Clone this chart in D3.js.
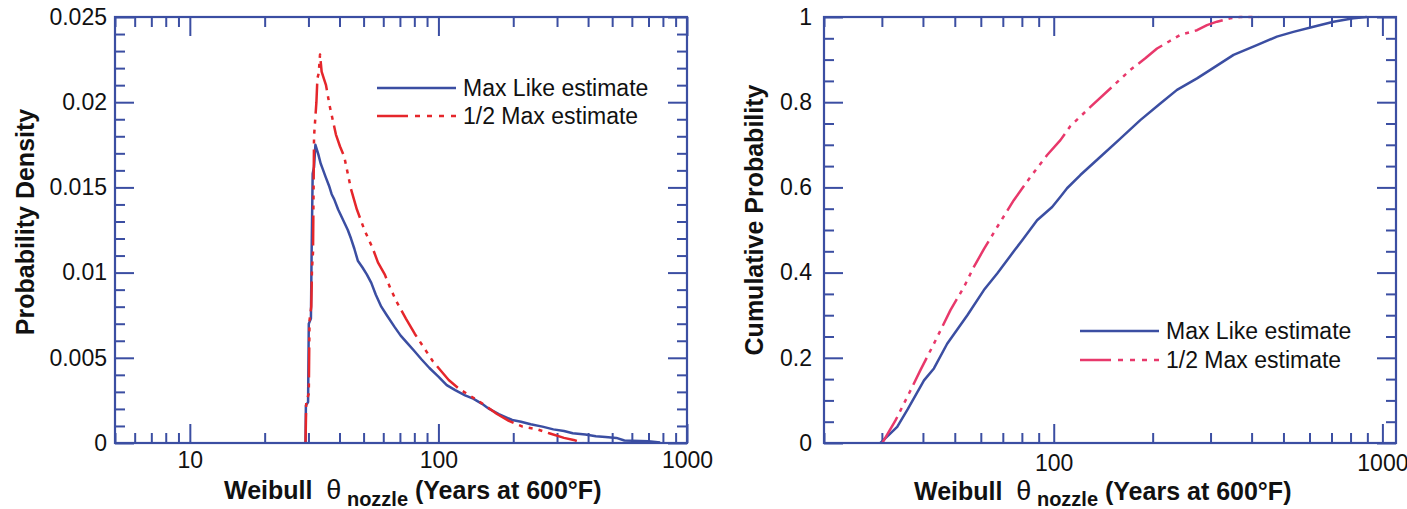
<!DOCTYPE html>
<html>
<head>
<meta charset="utf-8">
<script src="https://cdn.jsdelivr.net/npm/d3@7"></script>
<style>
body{margin:0;background:#fff;}
svg{font-family:"Liberation Sans",Arial,Helvetica,sans-serif;}
.xtitle{white-space:pre;}
</style>
</head>
<body>
<svg id="chart" width="1407" height="509"></svg>
<script>
// values: [theta, value]
var pdfMaxLike=[[29.2,0],[29.3,0.0022],[29.9,0.0024],[30.1,0.0070],[30.7,0.0073],[30.9,0.0112],[31.2,0.0158],[31.6,0.0162],[32.0,0.0175],
	[32.8,0.0170],[33.6,0.0164],[34.2,0.0161],[35.2,0.0156],[36.3,0.0151],[37.2,0.0146],[38.1,0.0143],[39.5,0.0137],[41.0,0.0132],
	[43.2,0.0125],[44.5,0.0120],[45.9,0.0114],[47.4,0.0107],[49.5,0.0103],[51.5,0.0099],[53.7,0.0094],[56,0.0087],[58.9,0.0080],
	[62,0.0075],[66.7,0.0068],[70.5,0.0063],[75.6,0.0058],[80,0.0054],[85.6,0.0049],[92,0.0044],[100,0.0039],[108,0.0034],
	[116.8,0.0031],[128,0.0028],[138,0.0026],[149.8,0.0023],[160,0.0020],[175,0.0017],[198,0.00135],[215,0.00125],[235,0.0011],
	[262,0.00096],[290,0.0008],[320,0.0007],[347,0.00057],[390,0.0005],[430,0.0004],[470,0.00035],[520,0.0003],[560,0.00015],
	[700,0.0001],[780,0.00003]];
var pdfHalfMax=[[29.2,0],[29.4,0.0024],[30.1,0.0029],[30.3,0.0072],[30.8,0.0080],[31.0,0.0102],[31.3,0.0112],[31.6,0.0180],[32.3,0.0200],
	[32.6,0.0214],[33.0,0.0217],[33.4,0.0228],[33.9,0.0218],[34.4,0.0215],[35.3,0.0210],[36.5,0.0198],[38.7,0.0181],[40.2,0.0174],
	[41.8,0.0168],[43.2,0.0158],[44.5,0.0149],[47,0.0137],[50.4,0.0125],[54.5,0.0114],[57.1,0.0106],[60.8,0.0099],[64,0.0091],
	[67.8,0.0083],[74,0.0073],[80.4,0.0064],[88.3,0.0055],[95,0.0048],[101.5,0.0043],[110,0.0037],[120.5,0.0032],[136.5,0.0027],
	[154.5,0.0022],[172,0.0017],[192,0.0013],[218,0.00096],[250,0.0008],[279,0.00057],[320,0.0003],[350,0.00018],[381,0]];
var cdfMaxLike=[[29.7,0],[33.4,0.038],[36,0.08],[40.3,0.147],[43.2,0.175],[47.4,0.233],[54.6,0.30],[61.3,0.359],[67.3,0.398],
	[75.6,0.45],[80.2,0.476],[89,0.523],[98.9,0.554],[104.8,0.578],[109.8,0.598],[120.5,0.629],[138.7,0.672],[157.6,0.711],
	[183.4,0.758],[211,0.797],[237.2,0.829],[272.9,0.856],[299.5,0.876],[352.5,0.911],[415,0.934],[477.5,0.954],[536,0.965],
	[617,0.977],[710,0.989],[816,0.997],[897,1.0]];
var cdfHalfMax=[[30.1,0],[33,0.053],[36.7,0.124],[39.3,0.171],[43.2,0.233],[48.5,0.312],[53.3,0.366],[57.1,0.413],[61.3,0.455],
	[67.3,0.507],[75.6,0.57],[85,0.625],[95.5,0.676],[104.8,0.711],[112.4,0.744],[129.3,0.789],[150.5,0.836],[171.1,0.876],
	[190,0.903],[206.2,0.926],[223.6,0.942],[242.7,0.958],[272.9,0.969],[292.6,0.981],[313.9,0.989],[344.4,0.997],[369.4,1.0],[420,1.0]];

var pdfYTicks=[0,0.005,0.01,0.015,0.02,0.025];
var cdfYTicks=[0,0.2,0.4,0.6,0.8,1];
var pdfXTicks=[10,100,1000];
var cdfXTicks=[100,1000];
var seriesNames=["Max Like estimate","1/2 Max estimate"];

var blue="#3b4ea2";
var svg=d3.select("#chart");

function logMinor(lo,hi,majors){
	var t=[];
	for(var d=1;d<=1000;d*=10){
		for(var k=1;k<10;k++){
			var v=k*d;
			if(v>=lo && v<=hi && majors.indexOf(v)<0) t.push(v);
		}
	}
	return t;
}
function linMinor(lo,hi,step,majors){
	var t=[];
	for(var i=0;i*step<=hi+1e-9;i++){
		var v=+(lo+i*step).toFixed(6);
		var major=majors.some(function(m){return Math.abs(m-v)<1e-9;});
		if(!major) t.push(v);
	}
	return t;
}
function styleTicks(g){
	g.select(".domain").remove();
	g.selectAll(".tick line").attr("stroke",blue).attr("stroke-width",2);
	g.selectAll(".tick text").attr("fill","#111").style("font-size","23px");
}

function drawPanel(o){
	var x=d3.scaleLog().domain(o.xDomain).range([o.left,o.right]);
	var y=d3.scaleLinear().domain(o.yDomain).range([o.bottom,o.top]);
	var W=o.right-o.left, H=o.bottom-o.top;
	var yMinor=linMinor(o.yDomain[0],o.yDomain[1],o.yStep,o.yTicks);
	var xMinor=logMinor(o.xDomain[0],o.xDomain[1],o.xTicks);
	var big=19, small=10;

	// bottom + top
	var gb=svg.append("g").attr("transform","translate(0,"+o.bottom+")");
	gb.append("g").call(d3.axisBottom(x).tickValues(o.xTicks).tickSizeInner(-big).tickSizeOuter(0).tickPadding(o.xPad).tickFormat(d3.format("d"))).call(styleTicks);
	gb.append("g").call(d3.axisBottom(x).tickValues(xMinor).tickSizeInner(-small).tickSizeOuter(0).tickFormat("")).call(styleTicks);
	var gt=svg.append("g").attr("transform","translate(0,"+o.top+")");
	gt.append("g").call(d3.axisTop(x).tickValues(o.xTicks).tickSizeInner(-big).tickSizeOuter(0).tickFormat("")).call(styleTicks);
	gt.append("g").call(d3.axisTop(x).tickValues(xMinor).tickSizeInner(-small).tickSizeOuter(0).tickFormat("")).call(styleTicks);
	// left + right
	var gl=svg.append("g").attr("transform","translate("+o.left+",0)");
	gl.append("g").call(d3.axisLeft(y).tickValues(o.yTicks).tickSizeInner(-big).tickSizeOuter(0).tickPadding(o.yPad).tickFormat(d3.format(""))).call(styleTicks);
	gl.append("g").call(d3.axisLeft(y).tickValues(yMinor).tickSizeInner(-small).tickSizeOuter(0).tickFormat("")).call(styleTicks);
	var gr=svg.append("g").attr("transform","translate("+o.right+",0)");
	gr.append("g").call(d3.axisRight(y).tickValues(o.yTicks).tickSizeInner(-big).tickSizeOuter(0).tickFormat("")).call(styleTicks);
	gr.append("g").call(d3.axisRight(y).tickValues(yMinor).tickSizeInner(-small).tickSizeOuter(0).tickFormat("")).call(styleTicks);

	// curves
	var clipId="clip"+o.id;
	svg.append("clipPath").attr("id",clipId).append("rect").attr("x",o.left).attr("y",o.top-2).attr("width",W).attr("height",H+2);
	var line=d3.line().x(function(d){return x(d[0]);}).y(function(d){return y(d[1]);});
	var gc=svg.append("g").attr("clip-path","url(#"+clipId+")");
	gc.append("path").datum(o.series[0]).attr("d",line).attr("fill","none").attr("stroke",blue).attr("stroke-width",2.5).attr("stroke-linejoin","round");
	gc.append("path").datum(o.series[1]).attr("d",line).attr("fill","none").attr("stroke",o.red).attr("stroke-width",2.5)
		.attr("stroke-dasharray","30,6,4,6,4,6,4,6").attr("stroke-linejoin","round");

	// frame
	svg.append("rect").attr("x",o.left).attr("y",o.top).attr("width",W).attr("height",H)
		.attr("fill","none").attr("stroke",blue).attr("stroke-width",2.2);

	// legend
	var lg=svg.append("g");
	seriesNames.forEach(function(name,i){
		var ly=o.legY[i];
		lg.append("line").attr("x1",o.legX).attr("x2",o.legX+79).attr("y1",ly).attr("y2",ly)
			.attr("stroke",i==0?blue:o.red).attr("stroke-width",2.5)
			.attr("stroke-dasharray",i==0?null:"31,7,5,7,5,7,5,7");
		lg.append("text").attr("x",o.legX+86).attr("y",ly+7.5).style("font-size","23px").attr("fill","#111").text(name);
	});

	// axis titles
	var xt=svg.append("text").attr("class","xtitle").attr("x",o.xTitleX).attr("y",o.xTitleY).attr("font-weight","bold").style("font-size","25px").attr("fill","#111");
	xt.append("tspan").text("Weibull  ");
	xt.append("tspan").attr("font-weight","normal").style("font-size","27px").text("\u03b8");
	xt.append("tspan").style("font-size","20px").attr("dy",o.subDy).text(" nozzle");
	xt.append("tspan").attr("dy",-o.subDy).text(" (Years at 600\u00b0F)");

	svg.append("text").attr("transform","translate("+o.yTitleX+","+o.yTitleY+") rotate(-90)")
		.attr("text-anchor","middle").attr("font-weight","bold").style("font-size","25px").attr("fill","#111").text(o.yTitle);
}

drawPanel({id:1,left:115,right:687,top:17,bottom:443,xDomain:[5,1000],yDomain:[0,0.025],yStep:0.001,
	xTicks:pdfXTicks,yTicks:pdfYTicks,xPad:9,yPad:8,series:[pdfMaxLike,pdfHalfMax],red:"#e5262b",
	legX:377,legY:[88,116],xTitleX:224,xTitleY:499,subDy:7,yTitleX:34,yTitleY:222,yTitle:"Probability Density"});
drawPanel({id:2,left:824,right:1396,top:17,bottom:443,xDomain:[20,1100],yDomain:[0,1],yStep:0.05,
	xTicks:cdfXTicks,yTicks:cdfYTicks,xPad:12,yPad:12,series:[cdfMaxLike,cdfHalfMax],red:"#e8386b",
	legX:1080,legY:[331,360],xTitleX:914,xTitleY:500,subDy:6,yTitleX:763,yTitleY:220,yTitle:"Cumulative Probability"});
</script>
</body>
</html>
